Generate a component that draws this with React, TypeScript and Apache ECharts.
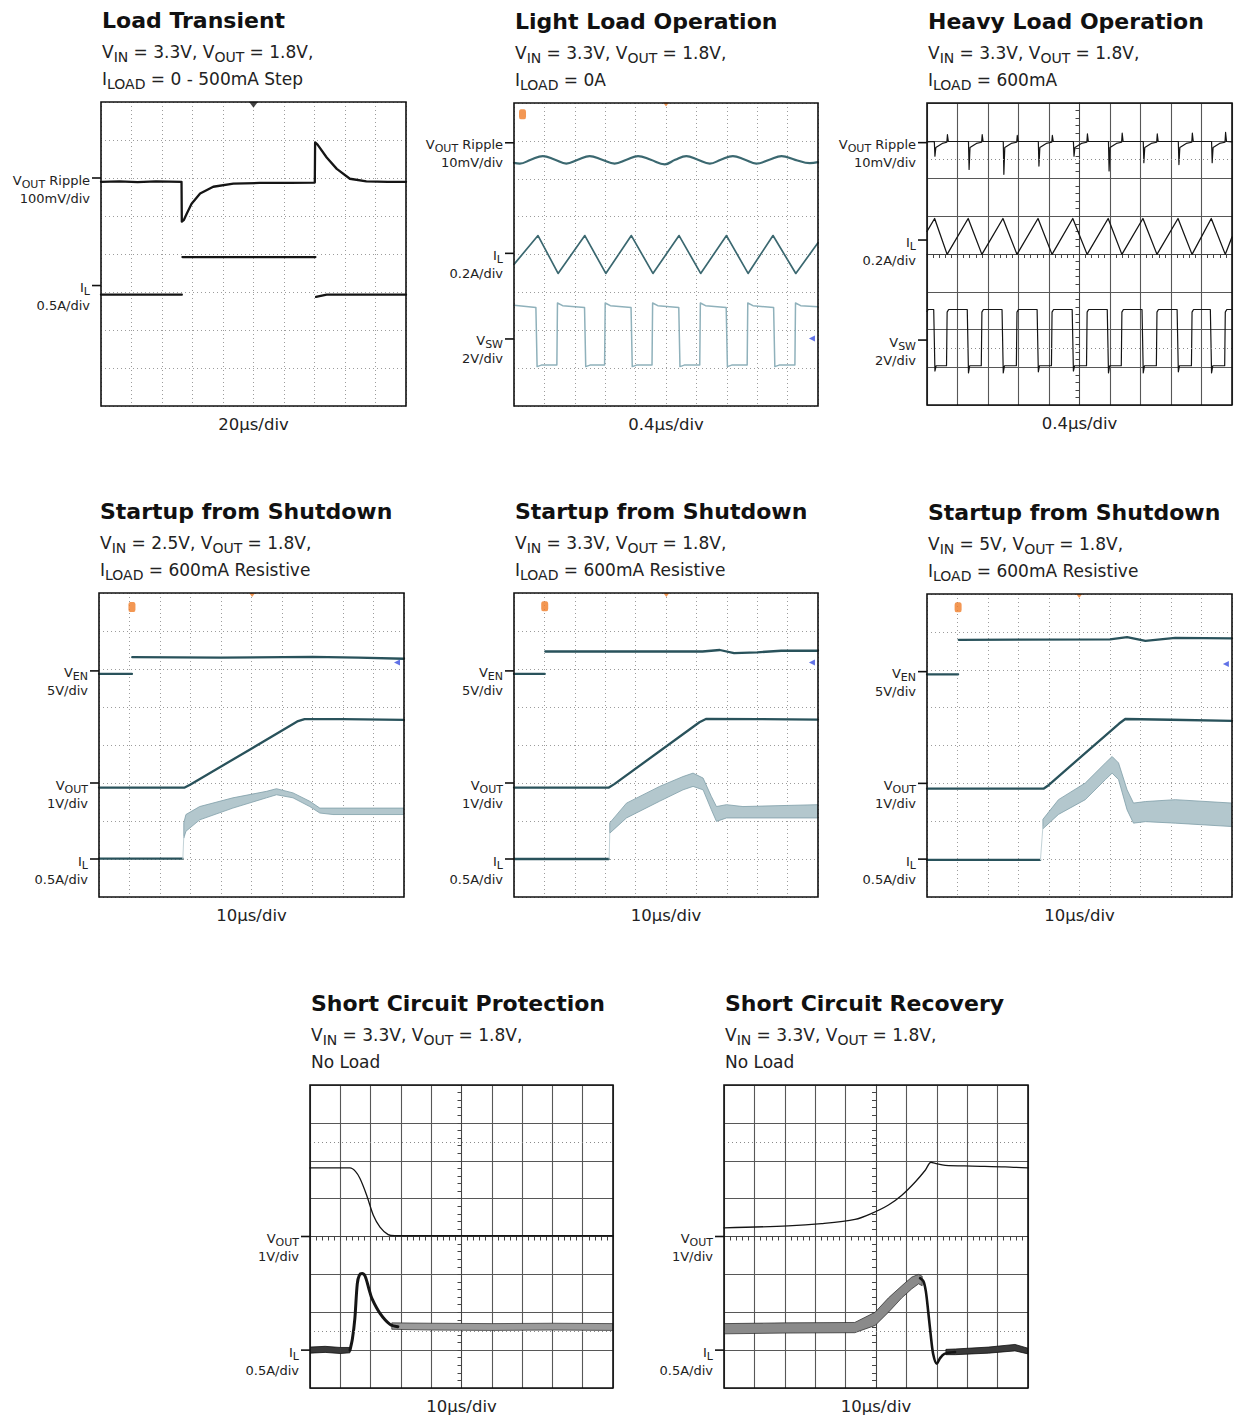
import React, { useEffect, useRef } from 'react';
import * as echarts from 'echarts';

const FONT = "'DejaVu Sans', 'Liberation Sans', Arial, sans-serif";

// ---------- texts ----------
const panelTitles = [
  'Load Transient',
  'Light Load Operation',
  'Heavy Load Operation',
  'Startup from Shutdown',
  'Startup from Shutdown',
  'Startup from Shutdown',
  'Short Circuit Protection',
  'Short Circuit Recovery',
];
const panelSupplyLines = [
  'V{s|IN} = 3.3V, V{s|OUT} = 1.8V,',
  'V{s|IN} = 3.3V, V{s|OUT} = 1.8V,',
  'V{s|IN} = 3.3V, V{s|OUT} = 1.8V,',
  'V{s|IN} = 2.5V, V{s|OUT} = 1.8V,',
  'V{s|IN} = 3.3V, V{s|OUT} = 1.8V,',
  'V{s|IN} = 5V, V{s|OUT} = 1.8V,',
  'V{s|IN} = 3.3V, V{s|OUT} = 1.8V,',
  'V{s|IN} = 3.3V, V{s|OUT} = 1.8V,',
];
const panelLoadLines = [
  'I{s|LOAD} = 0 - 500mA Step',
  'I{s|LOAD} = 0A',
  'I{s|LOAD} = 600mA',
  'I{s|LOAD} = 600mA Resistive',
  'I{s|LOAD} = 600mA Resistive',
  'I{s|LOAD} = 600mA Resistive',
  'No Load',
  'No Load',
];
const panelTimebases = ['20µs/div', '0.4µs/div', '0.4µs/div', '10µs/div', '10µs/div', '10µs/div', '10µs/div', '10µs/div'];

// channel markers: level in divisions from the bottom of the screen (0..8)
const loadTransientChannels = [
  { level: 6.0, name: 'V{s|OUT} Ripple', scale: '100mV/div' },
  { level: 3.17, name: 'I{s|L}', scale: '0.5A/div' },
];
const lightLoadChannels = [
  { level: 6.95, name: 'V{s|OUT} Ripple', scale: '10mV/div' },
  { level: 4.03, name: 'I{s|L}', scale: '0.2A/div' },
  { level: 1.77, name: 'V{s|SW}', scale: '2V/div' },
];
const heavyLoadChannels = [
  { level: 6.95, name: 'V{s|OUT} Ripple', scale: '10mV/div' },
  { level: 4.37, name: 'I{s|L}', scale: '0.2A/div' },
  { level: 1.72, name: 'V{s|SW}', scale: '2V/div' },
];
const startupChannels = [
  { level: 5.95, name: 'V{s|EN}', scale: '5V/div' },
  { level: 3.0, name: 'V{s|OUT}', scale: '1V/div' },
  { level: 1.0, name: 'I{s|L}', scale: '0.5A/div' },
];
const shortChannels = [
  { level: 4.0, name: 'V{s|OUT}', scale: '1V/div' },
  { level: 1.0, name: 'I{s|L}', scale: '0.5A/div' },
];
const halfDivLevels = [6.5, 1.5];

// ---------- traces (x: div from left 0..10, y: div from bottom 0..8) ----------
// Panel 1: Load transient
const ltVout = [[0, 5.9], [0.6, 5.91], [1.2, 5.89], [1.8, 5.91], [2.64, 5.9], [2.65, 4.85], [2.72, 4.9], [2.81, 5.06], [2.97, 5.32], [3.25, 5.59], [3.68, 5.77], [4.34, 5.85], [5.2, 5.87], [6.2, 5.87], [7.01, 5.88], [7.02, 6.94], [7.1, 6.88], [7.4, 6.54], [7.73, 6.24], [8.16, 5.98], [8.7, 5.91], [9.4, 5.9], [10, 5.9]];
const ltIlBefore = [[0, 2.93], [2.65, 2.93]];
const ltIlLoaded = [[2.67, 3.92], [7.03, 3.92]];
const ltIlAfter = [[7.05, 2.87], [7.4, 2.93], [10, 2.93]];
const ltTrigger = [[5.0, 7.93]];

// Panel 2: Light load
const llVout = [[0, 6.42], [0.19, 6.4], [0.55, 6.5], [0.95, 6.6], [1.35, 6.5], [1.72, 6.4], [2.1, 6.5], [2.49, 6.6], [2.9, 6.5], [3.31, 6.4], [3.7, 6.5], [4.08, 6.6], [4.5, 6.5], [4.96, 6.38], [5.3, 6.5], [5.67, 6.6], [6.05, 6.5], [6.44, 6.4], [6.8, 6.5], [7.2, 6.6], [7.6, 6.5], [7.97, 6.4], [8.4, 6.5], [8.8, 6.6], [9.25, 6.5], [9.73, 6.41], [10, 6.44]];
const llIl = [[0, 3.74], [0.79, 4.5], [1.45, 3.5], [2.33, 4.5], [3.02, 3.5], [3.86, 4.5], [4.57, 3.5], [5.43, 4.5], [6.14, 3.5], [6.99, 4.5], [7.7, 3.5], [8.52, 4.5], [9.27, 3.5], [10, 4.31]];
const llVsw = [[0, 2.66], [0.72, 2.6], [0.76, 1.04], [0.9, 1.08], [1.41, 1.08], [1.43, 2.72], [1.6, 2.65], [2.32, 2.6], [2.36, 1.04], [2.5, 1.08], [2.98, 1.08], [3.0, 2.72], [3.17, 2.65], [3.85, 2.6], [3.89, 1.04], [4.03, 1.08], [4.54, 1.08], [4.56, 2.72], [4.73, 2.65], [5.42, 2.6], [5.46, 1.04], [5.6, 1.08], [6.11, 1.08], [6.13, 2.72], [6.3, 2.65], [6.98, 2.6], [7.02, 1.04], [7.16, 1.08], [7.67, 1.08], [7.69, 2.72], [7.86, 2.65], [8.54, 2.6], [8.58, 1.04], [8.72, 1.08], [9.24, 1.08], [9.26, 2.72], [9.43, 2.65], [10, 2.62]];
const llMarkerCh1 = [[0.28, 7.7]];
const llMarkerTrig = [[5.0, 7.96]];
const llMarkerRef = [[9.8, 1.78]];

// Panel 3: Heavy load
const hlVout = [[0, 6.97],
  [0.24, 6.98], [0.26, 6.59], [0.29, 6.82], [0.5, 6.93], [0.65, 6.96], [0.67, 7.16], [0.7, 6.98],
  [1.36, 6.98], [1.38, 6.24], [1.41, 6.82], [1.62, 6.93], [1.79, 6.96], [1.81, 7.16], [1.84, 6.98],
  [2.5, 6.98], [2.52, 6.11], [2.55, 6.82], [2.76, 6.93], [2.94, 6.96], [2.96, 7.14], [2.99, 6.98],
  [3.65, 6.98], [3.67, 6.33], [3.7, 6.82], [3.91, 6.93], [4.09, 6.96], [4.11, 7.14], [4.14, 6.98],
  [4.8, 6.98], [4.82, 6.59], [4.85, 6.82], [5.06, 6.93], [5.24, 6.96], [5.26, 7.18], [5.29, 6.98],
  [5.95, 6.98], [5.97, 6.2], [6.0, 6.82], [6.21, 6.93], [6.38, 6.96], [6.4, 7.2], [6.43, 6.98],
  [7.09, 6.98], [7.11, 6.42], [7.14, 6.82], [7.35, 6.93], [7.53, 6.96], [7.55, 7.18], [7.58, 6.98],
  [8.24, 6.98], [8.26, 6.37], [8.29, 6.82], [8.5, 6.93], [8.68, 6.96], [8.7, 7.2], [8.73, 6.98],
  [9.33, 6.98], [9.35, 6.42], [9.38, 6.82], [9.59, 6.93], [9.77, 6.96], [9.79, 7.22], [9.82, 6.98], [10, 6.97]];
const hlIl = [[0, 4.6], [0.25, 4.94], [0.66, 3.99], [1.35, 4.94], [1.8, 3.99], [2.49, 4.94], [2.95, 3.99], [3.64, 4.94], [4.1, 3.99], [4.78, 4.94], [5.25, 3.99], [5.94, 4.94], [6.39, 3.99], [7.08, 4.94], [7.54, 3.99], [8.23, 4.94], [8.69, 3.99], [9.32, 4.94], [9.78, 3.99], [10, 4.45]];
const hlVsw = [[0, 2.48], [0.04, 2.53], [0.22, 2.53], [0.26, 0.9], [0.3, 1.04], [0.64, 1.04], [0.66, 2.46], [0.71, 2.53], [1.32, 2.53], [1.36, 0.85], [1.4, 1.04], [1.78, 1.04], [1.8, 2.46], [1.85, 2.53], [2.46, 2.53], [2.5, 0.85], [2.54, 1.04], [2.93, 1.04], [2.95, 2.46], [3.0, 2.53], [3.61, 2.53], [3.65, 0.88], [3.69, 1.04], [4.08, 1.04], [4.1, 2.46], [4.15, 2.53], [4.76, 2.53], [4.8, 0.9], [4.84, 1.04], [5.23, 1.04], [5.25, 2.46], [5.3, 2.53], [5.91, 2.53], [5.95, 0.85], [5.99, 1.04], [6.37, 1.04], [6.39, 2.46], [6.44, 2.53], [7.05, 2.53], [7.09, 0.85], [7.13, 1.04], [7.52, 1.04], [7.54, 2.46], [7.59, 2.53], [8.2, 2.53], [8.24, 0.88], [8.28, 1.04], [8.67, 1.04], [8.69, 2.46], [8.74, 2.53], [9.29, 2.53], [9.33, 0.85], [9.37, 1.04], [9.76, 1.04], [9.78, 2.46], [9.83, 2.53], [10, 2.53]];

// Panel 4: Startup, VIN = 2.5V
const s1VenLow = [[0, 5.87], [1.08, 5.87]];
const s1VenHigh = [[1.09, 6.31], [4.0, 6.3], [7.0, 6.32], [8.5, 6.3], [10, 6.27]];
const s1Vout = [[0, 2.88], [2.81, 2.88], [3.0, 2.96], [5.05, 3.93], [6.5, 4.62], [6.74, 4.68], [8, 4.68], [10, 4.66]];
const s1IlFlat = [[0, 1.01], [2.74, 1.01]];
const s1IlStep = [[2.75, 1.01], [2.78, 1.6]];
const s1IlBand = [[2.78, 1.55, 1.95], [2.85, 1.73, 2.17], [3.3, 2.03, 2.38], [4.39, 2.34, 2.61], [5.49, 2.61, 2.78], [5.82, 2.69, 2.85], [6.36, 2.61, 2.74], [6.91, 2.38, 2.52], [7.24, 2.21, 2.34], [7.67, 2.17, 2.34], [10, 2.17, 2.34]];
const s1Markers = { ch: [[1.08, 7.63]], trig: [[5.02, 7.95]], ref: [[9.77, 6.17]] };

// Panel 5: Startup, VIN = 3.3V
const s2VenLow = [[0, 5.87], [1.01, 5.87]];
const s2VenHigh = [[1.03, 6.46], [6.2, 6.46], [6.77, 6.5], [7.24, 6.42], [8.0, 6.44], [8.79, 6.48], [10, 6.48]];
const s2Vout = [[0, 2.88], [3.12, 2.88], [3.3, 2.97], [6.1, 4.6], [6.33, 4.69], [8, 4.68], [10, 4.67]];
const s2IlFlat = [[0, 1.0], [3.12, 1.0]];
const s2IlStep = [[3.13, 1.0], [3.15, 1.68]];
const s2IlBand = [[3.15, 1.68, 1.95], [3.7, 2.08, 2.47], [4.79, 2.52, 2.91], [5.56, 2.82, 3.17], [5.89, 2.91, 3.26], [6.22, 2.82, 3.13], [6.49, 2.3, 2.65], [6.66, 1.99, 2.38], [6.99, 2.08, 2.43], [7.53, 2.08, 2.38], [10, 2.08, 2.43]];
const s2Markers = { ch: [[1.01, 7.65]], trig: [[5.01, 7.95]], ref: [[9.8, 6.17]] };

// Panel 6: Startup, VIN = 5V
const s3VenLow = [[0, 5.88], [1.02, 5.88]];
const s3VenHigh = [[1.04, 6.79], [6.0, 6.8], [6.56, 6.86], [7.16, 6.76], [8.14, 6.84], [10, 6.83]];
const s3Vout = [[0, 2.86], [3.82, 2.86], [3.95, 2.93], [6.3, 4.58], [6.5, 4.7], [8, 4.68], [10, 4.65]];
const s3IlFlat = [[0, 0.98], [3.71, 0.98]];
const s3IlStep = [[3.72, 0.98], [3.8, 1.86]];
const s3IlBand = [[3.8, 1.8, 2.05], [4.31, 2.18, 2.57], [5.19, 2.57, 3.01], [5.85, 3.1, 3.54], [6.07, 3.27, 3.71], [6.28, 3.1, 3.54], [6.56, 2.3, 2.83], [6.77, 1.95, 2.48], [7.16, 1.99, 2.52], [8.14, 1.95, 2.57], [10, 1.86, 2.48]];
const s3Markers = { ch: [[1.02, 7.65]], trig: [[4.99, 7.95]], ref: [[9.8, 6.15]] };

// Panel 7: Short circuit protection
const scpVout = [[0, 5.81], [1.32, 5.81], [1.5, 5.72], [1.65, 5.53], [1.87, 5.09], [2.09, 4.56], [2.31, 4.25], [2.58, 4.05], [2.8, 4.02], [10, 4.02]];
const scpIlNoise = [[0, 0.92, 1.08], [0.5, 0.94, 1.1], [1.0, 0.91, 1.07], [1.32, 0.93, 1.07]];
const scpIlSurge = [[1.32, 1.0], [1.4, 1.3], [1.48, 1.83], [1.56, 2.75], [1.63, 2.98], [1.72, 3.02], [1.82, 2.95], [1.95, 2.6], [2.05, 2.35], [2.31, 1.97], [2.64, 1.68], [2.9, 1.62]];
const scpIlRipple = [[2.7, 1.55, 1.72], [4, 1.53, 1.71], [6, 1.52, 1.7], [8, 1.53, 1.71], [10, 1.52, 1.7]];

// Panel 8: Short circuit recovery
const scrVout = [[0, 4.23], [2.11, 4.28], [3.21, 4.34], [4.31, 4.45], [4.86, 4.61], [5.41, 4.83], [5.85, 5.09], [6.29, 5.44], [6.62, 5.75], [6.81, 5.96], [6.95, 5.93], [7.28, 5.88], [8.16, 5.86], [9.25, 5.84], [10, 5.81]];
const scrIlHiccup = [[0, 1.43, 1.7], [2.0, 1.45, 1.72], [4.3, 1.46, 1.73], [4.97, 1.65, 2.0], [5.41, 2.0, 2.38], [5.85, 2.38, 2.7], [6.18, 2.62, 2.93], [6.4, 2.75, 3.0], [6.52, 2.7, 2.95]];
const scrIlDrop = [[6.45, 2.9], [6.56, 2.82], [6.64, 2.55], [6.72, 2.0], [6.8, 1.4], [6.88, 0.9], [7.0, 0.64], [7.1, 0.78], [7.25, 0.9], [7.6, 0.95]];
const scrIlSettled = [[7.3, 0.88, 1.02], [7.61, 0.88, 1.03], [8.7, 0.92, 1.08], [9.57, 0.98, 1.15], [10, 0.9, 1.05]];

// ---------- layout ----------
const LAYOUT = [
  { left: 101, top: 102, width: 305, height: 304, solid: false },
  { left: 514, top: 103, width: 304, height: 303, solid: false },
  { left: 927, top: 103, width: 305, height: 302, solid: true },
  { left: 99, top: 593, width: 305, height: 304, solid: false },
  { left: 514, top: 593, width: 304, height: 304, solid: false },
  { left: 927, top: 594, width: 305, height: 303, solid: false },
  { left: 310, top: 1085, width: 303, height: 303, solid: true },
  { left: 724, top: 1085, width: 304, height: 303, solid: true },
];
const panelChannels = [loadTransientChannels, lightLoadChannels, heavyLoadChannels, startupChannels, startupChannels, startupChannels, shortChannels, shortChannels];

const BLACK = '#151515';
const TEAL = '#29525b';
const TEAL2 = '#3b6870';
const SW = '#8fb1bb';
const BAND = '#b3c7cd';
const BAND_EDGE = '#7f9ea8';
const ORANGE = '#f07d28';
const BLUE = '#3a4fe0';

function shift(pts: number[][]) {
  return pts.map(([x, y]) => [x - 5, y - 4]);
}

function trace(g: number, pts: number[][], color: string, width: number, extra: any = {}) {
  return {
    type: 'line', xAxisIndex: g, yAxisIndex: g, data: shift(pts),
    symbol: 'none', showSymbol: false, silent: true, clip: true, z: 3,
    lineStyle: { color, width, cap: 'round', join: 'round' },
    ...extra,
  };
}

function band(g: number, rows: number[][], fill: string, stroke: string, lineWidth = 0.8) {
  const data = rows.map(([x, lo, hi]) => [x - 5, lo - 4, hi - 4]);
  return {
    type: 'custom', xAxisIndex: g, yAxisIndex: g, data, silent: true, clip: true, z: 3,
    encode: { x: 0, y: [1, 2] },
    renderItem: (params: any, api: any) => {
      if (params.dataIndex !== 0) return { type: 'group', children: [] };
      const upper = data.map((d) => api.coord([d[0], d[2]]));
      const lower = data.map((d) => api.coord([d[0], d[1]])).reverse();
      return { type: 'polygon', shape: { points: upper.concat(lower) }, style: { fill, stroke, lineWidth } };
    },
  };
}

function marker(g: number, pts: number[][], symbol: string, size: any, color: string, rotate = 0) {
  return {
    type: 'scatter', xAxisIndex: g, yAxisIndex: g, data: shift(pts), symbol, symbolSize: size,
    symbolRotate: rotate, itemStyle: { color }, silent: true, z: 6,
  };
}

const halfDivMarkLine = {
  silent: true, symbol: ['none', 'none'], label: { show: false },
  lineStyle: { color: '#8a8a8a', width: 1, type: [1, 3] },
  data: halfDivLevels.map((v) => ({ yAxis: v - 4 })),
};

function buildSeries() {
  const s: any[] = [];
  // 1
  s.push(trace(0, ltVout, BLACK, 2.3));
  s.push(trace(0, ltIlBefore, BLACK, 2.3));
  s.push(trace(0, ltIlLoaded, BLACK, 2.3));
  s.push(trace(0, ltIlAfter, BLACK, 2.3));
  s.push(marker(0, ltTrigger, 'triangle', [9, 6], BLACK, 180));
  // 2
  s.push(trace(1, llVout, TEAL2, 2.2, { smooth: 0.4 }));
  s.push(trace(1, llIl, TEAL2, 1.7));
  s.push(trace(1, llVsw, SW, 1.5));
  s.push(marker(1, llMarkerCh1, 'roundRect', [7, 10], ORANGE));
  s.push(marker(1, llMarkerTrig, 'triangle', [6, 4], ORANGE, 180));
  s.push(marker(1, llMarkerRef, 'triangle', [6, 6], BLUE, 90));
  // 3
  s.push(trace(2, hlVout, BLACK, 1.2, { markLine: halfDivMarkLine }));
  s.push(trace(2, hlIl, BLACK, 1.3));
  s.push(trace(2, hlVsw, BLACK, 1.2));
  // 4-6
  const startups = [
    [s1VenLow, s1VenHigh, s1Vout, s1IlFlat, s1IlStep, s1IlBand, s1Markers],
    [s2VenLow, s2VenHigh, s2Vout, s2IlFlat, s2IlStep, s2IlBand, s2Markers],
    [s3VenLow, s3VenHigh, s3Vout, s3IlFlat, s3IlStep, s3IlBand, s3Markers],
  ] as any[];
  startups.forEach((p, k) => {
    const g = 3 + k;
    s.push(trace(g, p[0], TEAL, 2.3));
    s.push(trace(g, p[1], TEAL, 2.3));
    s.push(trace(g, p[2], TEAL, 2.3));
    s.push(trace(g, p[3], TEAL, 2.3));
    s.push(trace(g, p[4], '#c3d3d8', 1));
    s.push(band(g, p[5], BAND, BAND_EDGE));
    s.push(marker(g, p[6].ch, 'roundRect', [7, 10], ORANGE));
    s.push(marker(g, p[6].trig, 'triangle', [6, 4], ORANGE, 180));
    s.push(marker(g, p[6].ref, 'triangle', [6, 6], BLUE, 90));
  });
  // 7
  s.push(trace(6, scpVout, BLACK, 1.3, { smooth: 0.3, markLine: halfDivMarkLine }));
  s.push(band(6, scpIlNoise, '#3a3a3a', '#111'));
  s.push(trace(6, scpIlSurge, BLACK, 3, { smooth: 0.3 }));
  s.push(band(6, scpIlRipple, '#9a9a9a', '#2a2a2a', 0.7));
  // 8
  s.push(trace(7, scrVout, BLACK, 1.3, { smooth: 0.3, markLine: halfDivMarkLine }));
  s.push(band(7, scrIlHiccup, '#8a8a8a', '#222', 0.7));
  s.push(trace(7, scrIlDrop, BLACK, 2.6, { smooth: 0.3 }));
  s.push(band(7, scrIlSettled, '#3a3a3a', '#111'));
  return s;
}

function buildGraphic() {
  const els: any[] = [];
  const subRich = (size: number, pad: number, color: string) => ({
    s: { font: `${size}px ${FONT}`, padding: [pad, 0, 0, 0], fill: color },
  });
  LAYOUT.forEach((b, i) => {
    const tx = b.left + 1;
    els.push({
      type: 'text', x: tx, y: b.top - 81.5, silent: true,
      style: { text: panelTitles[i], font: `bold 22px ${FONT}`, fill: '#111', textAlign: 'left', textVerticalAlign: 'middle' },
    });
    els.push({
      type: 'text', x: tx, y: b.top - 50, silent: true,
      style: { text: panelSupplyLines[i], font: `17px ${FONT}`, fill: '#222', textAlign: 'left', textVerticalAlign: 'middle', rich: subRich(14, 9, '#222') },
    });
    els.push({
      type: 'text', x: tx, y: b.top - 23, silent: true,
      style: { text: panelLoadLines[i], font: `17px ${FONT}`, fill: '#222', textAlign: 'left', textVerticalAlign: 'middle', rich: subRich(14, 9, '#222') },
    });
    els.push({
      type: 'text', x: b.left + b.width / 2, y: b.top + b.height + 18.5, silent: true,
      style: { text: panelTimebases[i], font: `16.5px ${FONT}`, fill: '#222', textAlign: 'center', textVerticalAlign: 'middle' },
    });
    els.push({
      type: 'rect', silent: true, z: 50,
      shape: { x: b.left, y: b.top, width: b.width, height: b.height },
      style: { fill: 'none', stroke: '#111', lineWidth: 1.6 },
    });
    panelChannels[i].forEach((c) => {
      const py = b.top + ((8 - c.level) / 8) * b.height;
      els.push({
        type: 'line', silent: true, z: 50,
        shape: { x1: b.left - 9, y1: py, x2: b.left, y2: py },
        style: { stroke: '#111', lineWidth: 1.6 },
      });
      els.push({
        type: 'text', x: b.left - 11, y: py + 2, silent: true,
        style: { text: c.name, font: `13px ${FONT}`, fill: '#222', textAlign: 'right', textVerticalAlign: 'middle', rich: subRich(11, 8, '#222') },
      });
      els.push({
        type: 'text', x: b.left - 11, y: py + 20, silent: true,
        style: { text: c.scale, font: `13px ${FONT}`, fill: '#222', textAlign: 'right', textVerticalAlign: 'middle' },
      });
    });
  });
  return els;
}

function buildOption() {
  const grid = LAYOUT.map((b) => ({ left: b.left, top: b.top, width: b.width, height: b.height, show: false }));
  const axisCommon = (b: any) => ({
    type: 'value',
    axisLabel: { show: false },
    axisLine: { show: b.solid, onZero: true, lineStyle: { color: '#444', width: 1 } },
    axisTick: { show: b.solid, length: 4, lineStyle: { color: '#444', width: 1 } },
    minorTick: { show: b.solid, splitNumber: 5, length: 4, lineStyle: { color: '#444', width: 1 } },
    splitLine: {
      show: true,
      lineStyle: b.solid ? { color: '#575757', width: 1.1, type: 'solid' } : { color: '#9c9c9c', width: 1, type: [1, 3] },
    },
  });
  const xAxis = LAYOUT.map((b, i) => ({ ...axisCommon(b), gridIndex: i, min: -5, max: 5, interval: 1 }));
  const yAxis = LAYOUT.map((b, i) => ({ ...axisCommon(b), gridIndex: i, min: -4, max: 4, interval: 1 }));
  return {
    animation: false,
    backgroundColor: '#ffffff',
    grid,
    xAxis,
    yAxis,
    series: buildSeries(),
    graphic: { elements: buildGraphic() },
  };
}

export default function App() {
  const ref = useRef<HTMLDivElement>(null);
  useEffect(() => {
    if (!ref.current) return;
    const chart = echarts.init(ref.current, undefined, { renderer: 'svg' });
    chart.setOption(buildOption() as any);
    return () => chart.dispose();
  }, []);
  return <div ref={ref} style={{ position: 'absolute', left: 0, top: 0, width: 1235, height: 1418 }} />;
}
